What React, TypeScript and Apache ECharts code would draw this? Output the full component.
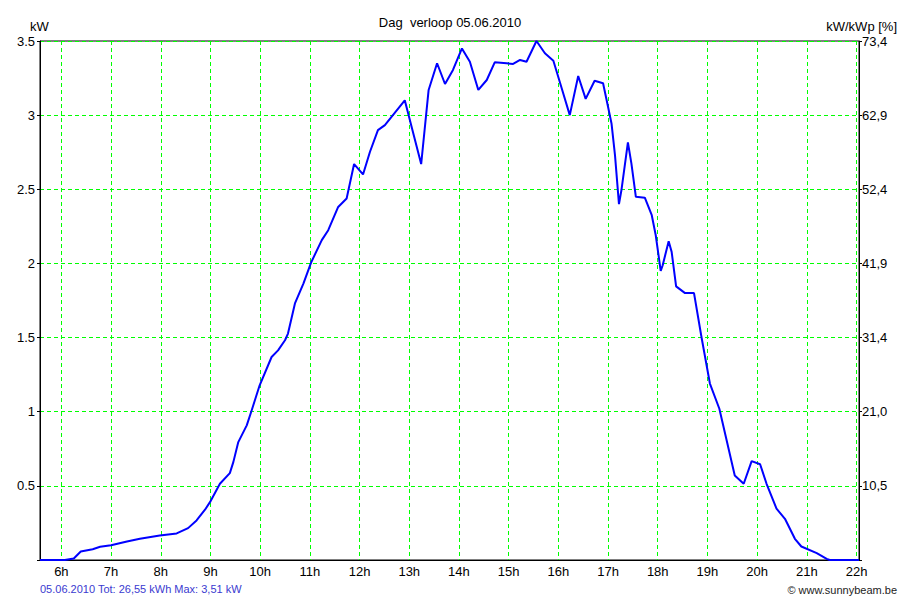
import React, { useEffect, useRef } from "react";
import * as echarts from "echarts";

// Time of day in hours (decimal) and measured power in kW
const times = [
  5.57, 6.07, 6.25, 6.39, 6.63, 6.78, 7.0, 7.32, 7.58, 7.98, 8.32, 8.55, 8.72, 8.89, 8.99,
  9.19, 9.39, 9.46, 9.56, 9.73, 9.83, 9.99, 10.23, 10.36, 10.5, 10.56, 10.7, 10.87, 11.03,
  11.24, 11.37, 11.57, 11.74, 11.89, 12.07, 12.21, 12.37, 12.51, 12.91, 13.24, 13.39, 13.56,
  13.72, 13.88, 14.06, 14.22, 14.39, 14.56, 14.72, 14.96, 15.09, 15.23, 15.36, 15.56, 15.73,
  15.9, 16.06, 16.23, 16.4, 16.55, 16.73, 16.9, 17.0, 17.07, 17.14, 17.22, 17.27, 17.4,
  17.47, 17.56, 17.74, 17.88, 17.96, 18.06, 18.1, 18.22, 18.28, 18.37, 18.55, 18.73, 18.88,
  19.05, 19.24, 19.55, 19.73, 19.89, 20.06, 20.19, 20.39, 20.56, 20.76, 20.89, 21.2, 21.4,
  21.46, 22.05,
];
const powerKW = [
  0, 0, 0.01, 0.057, 0.073, 0.089, 0.1, 0.125, 0.143, 0.165, 0.179, 0.215, 0.267, 0.339, 0.39,
  0.514, 0.586, 0.66, 0.795, 0.908, 1.01, 1.178, 1.369, 1.414, 1.482, 1.527, 1.73, 1.864, 2.01,
  2.157, 2.224, 2.381, 2.438, 2.67, 2.6, 2.753, 2.899, 2.933, 3.1, 2.67, 3.17, 3.35,
  3.21, 3.305, 3.45, 3.36, 3.17, 3.237, 3.356, 3.35, 3.345, 3.372, 3.36, 3.5, 3.417,
  3.367, 3.19, 3.0, 3.264, 3.11, 3.232, 3.215, 3.057, 2.944, 2.73, 2.4, 2.495, 2.816,
  2.675, 2.449, 2.443, 2.325, 2.19, 1.95, 1.988, 2.15, 2.078, 1.845, 1.8, 1.8, 1.504,
  1.19, 1.02, 0.57, 0.514, 0.667, 0.646, 0.514, 0.346, 0.278, 0.143, 0.091, 0.046, 0.008,
  0, 0,
];

const hourTicks = [6, 7, 8, 9, 10, 11, 12, 13, 14, 15, 16, 17, 18, 19, 20, 21, 22];
const rightLabels = ["10,5", "21,0", "31,4", "41,9", "52,4", "62,9", "73,4"];

const titleText = "Dag  verloop 05.06.2010";
const leftUnit = "kW";
const rightUnit = "kW/kWp [%]";
const footerLeft = "05.06.2010 Tot: 26,55 kWh Max: 3,51 kW";
const footerRight = "© www.sunnybeam.be";

const FONT = "'Liberation Sans', Arial, sans-serif";

export default function App() {
  const ref = useRef<HTMLDivElement>(null);

  useEffect(() => {
    if (!ref.current) return;
    const chart = echarts.init(ref.current, null, { renderer: "svg" });
    const data = times.map((t, i) => [t, powerKW[i]]);
    const gridLine = { show: true, lineStyle: { color: "#00ff00", type: [4, 3], width: 1 } };

    chart.setOption({
      animation: false,
      backgroundColor: "#ffffff",
      textStyle: { fontFamily: FONT },
      title: {
        text: titleText,
        left: "center",
        top: 11,
        textStyle: { fontFamily: FONT, fontSize: 13, fontWeight: "normal", color: "#000" },
      },
      grid: {
        left: 40,
        right: 41,
        top: 41,
        bottom: 40,
        show: true,
        borderColor: "#000",
        borderWidth: 1,
        backgroundColor: "transparent",
      },
      xAxis: {
        type: "value",
        min: 5.57,
        max: 22.05,
        axisLine: { show: true, lineStyle: { color: "#000", width: 1 } },
        axisTick: { show: false, customValues: hourTicks },
        axisLabel: {
          customValues: hourTicks,
          formatter: (v: number) => `${v}h`,
          color: "#000",
          fontSize: 13,
          fontFamily: FONT,
          margin: 5,
        },
        splitLine: gridLine,
      },
      yAxis: [
        {
          type: "value",
          min: 0,
          max: 3.5,
          interval: 0.5,
          axisLine: { show: true, lineStyle: { color: "#000", width: 1 } },
          axisTick: { show: true, length: 3, lineStyle: { color: "#000" } },
          axisLabel: {
            formatter: (v: number) => (v === 0 ? "" : String(v)),
            color: "#000",
            fontSize: 13,
            fontFamily: FONT,
            margin: 5,
          },
          splitLine: gridLine,
        },
        {
          type: "value",
          min: 0,
          max: 3.5,
          interval: 0.5,
          position: "right",
          axisLine: { show: true, lineStyle: { color: "#000", width: 1 } },
          axisTick: { show: true, length: 3, lineStyle: { color: "#000" } },
          axisLabel: {
            formatter: (v: number) => {
              const idx = Math.round(v / 0.5) - 1;
              return idx >= 0 ? rightLabels[idx] : "";
            },
            color: "#000",
            fontSize: 13,
            fontFamily: FONT,
            margin: 3,
          },
          splitLine: { show: false },
        },
      ],
      graphic: [
        {
          type: "text",
          left: 30,
          top: 20,
          style: { text: leftUnit, fill: "#000", font: `13px ${FONT}` },
        },
        {
          type: "text",
          right: 3,
          top: 20,
          style: { text: rightUnit, fill: "#000", font: `13px ${FONT}` },
        },
        {
          type: "text",
          left: 40,
          top: 583,
          style: { text: footerLeft, fill: "#3a3ad0", font: `11px ${FONT}` },
        },
        {
          type: "text",
          right: 3,
          top: 584,
          style: { text: footerRight, fill: "#222", font: `11px ${FONT}` },
        },
      ],
      series: [
        {
          type: "line",
          data,
          showSymbol: false,
          symbol: "none",
          lineStyle: { color: "#0000ff", width: 2 },
          itemStyle: { color: "#0000ff" },
          z: 5,
        },
      ],
    });

    return () => chart.dispose();
  }, []);

  return (
    <div
      ref={ref}
      style={{ position: "fixed", left: 0, top: 0, width: 900, height: 600, background: "#fff" }}
    />
  );
}
